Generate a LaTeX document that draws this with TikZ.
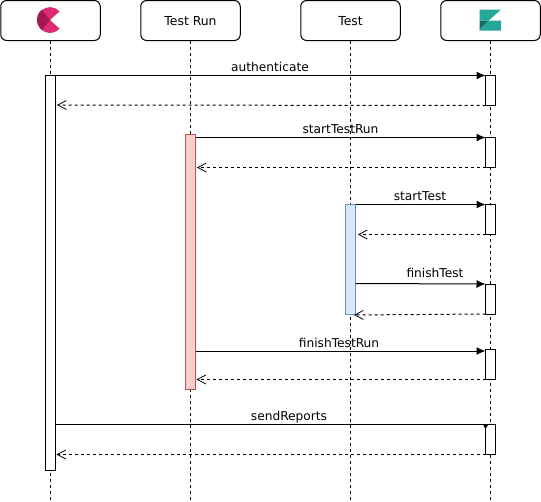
\documentclass[tikz,border=0pt]{standalone}
\usepackage{fontspec}
\setmainfont{DejaVu Sans}
\usetikzlibrary{arrows.meta}
\definecolor{blfill}{HTML}{DAE8FC}
\definecolor{blline}{HTML}{6C8EBF}
\definecolor{rdfill}{HTML}{F8CECC}
\definecolor{rdline}{HTML}{B85450}
\definecolor{kpink}{HTML}{DB2F72}
\definecolor{kdark}{HTML}{A6184F}
\definecolor{zteal}{HTML}{25A799}
\definecolor{zdark}{HTML}{0F6F66}
\tikzset{
 head/.style={draw=black,rounded corners=6pt,line width=1pt,minimum width=99.5pt,minimum height=40pt,inner sep=0pt,text depth=-1.5pt,font=\fontsize{12.4pt}{14pt}\selectfont},
 bar/.style={draw=black,fill=white,line width=1pt,minimum width=10pt,inner sep=0pt,outer sep=0pt},
 life/.style={line width=1pt,dash pattern=on 3pt off 3pt},
 msg/.style={line width=1pt,-{Latex[length=9pt,width=8pt]}},
 ret/.style={line width=1pt,dash pattern=on 3pt off 3pt,-{Straight Barb[length=8.5pt,width=9pt,line width=0.8pt]}},
 lab/.style={inner sep=0pt,font=\fontsize{12.2pt}{14pt}\selectfont,anchor=base}
}
\begin{document}
\begin{tikzpicture}[x=1pt,y=-1pt]
\useasboundingbox (0,0) rectangle (541,501);
\fill[white] (0,0) rectangle (541,501);
% lifeline ends
\coordinate (e1) at (50.5,500);
\coordinate (e2) at (190.5,500);
\coordinate (e3) at (350.5,500);
\coordinate (e4) at (490.5,500);
% heads
\node[head] (h1) at (50.5,20.5) {};
\node[head] (h2) at (190.5,20.5) {Test Run};
\node[head] (h3) at (350.5,20.5) {Test};
\node[head] (h4) at (490.5,20.5) {};
\draw[life] (h1) -- (e1);
\draw[life] (h2) -- (e2);
\draw[life] (h3) -- (e3);
\draw[life] (h4) -- (e4);
% activation bars
\node[bar,minimum height=394.5pt] (a1) at (50.5,272.75) {};
\node[bar,fill=rdfill,draw=rdline,minimum height=255pt] (a2) at (190.5,261.5) {};
\node[bar,fill=blfill,draw=blline,minimum height=110pt] (a3) at (350.5,259.5) {};
\node[bar,minimum height=30pt] (d1) at (490.5,90.5) {};
\node[bar,minimum height=30pt] (d2) at (490.5,152.5) {};
\node[bar,minimum height=30pt] (d3) at (490.5,219.5) {};
\node[bar,minimum height=30pt] (d4) at (490.5,299) {};
\node[bar,minimum height=30pt] (d5) at (490.5,364.5) {};
\node[bar,minimum height=30pt] (d6) at (490.5,439.5) {};
% logos
\fill[kpink] (50,20) -- (59.6,11.4) arc (-42:-318:12.9) -- cycle;
\fill[kdark] (50,20) -- (41.9,9.7) arc (-128:-232:12.9) -- cycle;
\fill[zteal] (479.5,9.5) -- (501,9.5) -- (488.5,20.7) -- (479.5,20.7) -- cycle;
\fill[zteal] (488.5,20.7) -- (501,20.7) -- (501,30.5) -- (479.5,30.5) -- (479.5,29.5) -- cycle;
\fill[zdark] (479.5,20.7) -- (488.5,20.7) -- (479.5,29.5) -- cycle;
% messages
\coordinate (m1s) at (55.5,75.5);
\coordinate (m2s) at (195.5,137.5);
\coordinate (m3s) at (355.5,204.5);
\coordinate (m4s) at (355.5,283.5);
\coordinate (m5s) at (195.5,351);
\coordinate (m6s) at (55.5,424.5);
\draw[msg] (m1s) -- (d1.north west);
\draw[msg] (m2s) -- (d2.north west);
\draw[msg] (m3s) -- (d3.north west);
\draw[msg] (m4s) -- (d4.north west);
\draw[msg] (m5s) -- (m5s -| d5.west);
\draw[line width=1pt] (m6s) -- (d6.north west);
\fill[black] (483.3,425) -- (488,425) -- (485.5,429) -- cycle;
% returns
\coordinate (r1) at (57,105);
\coordinate (r2) at (197,167.5);
\coordinate (r3) at (358,234.5);
\coordinate (r4) at (354,315);
\coordinate (r5) at (196.5,379.5);
\coordinate (r6) at (56.5,454.5);
\draw[ret] (d1.south west) -- (r1);
\draw[ret] (d2.south west) -- (r2);
\draw[ret] (d3.south west) -- (r3);
\draw[ret] (d4.south west) -- (r4);
\draw[ret] (d5.south west) -- (r5);
\draw[ret] (d6.south west) -- (r6);
% labels
\node[lab] (l1) at (270,71) {authenticate};
\node[lab] (l2) at (340.5,133.5) {startTestRun};
\node[lab] (l3) at (420,200.5) {startTest};
\node[lab] (l4) at (435,277) {finishTest};
\node[lab] (l5) at (339,347.5) {finishTestRun};
\node[lab] (l6) at (289,420) {sendReports};
\end{tikzpicture}
\end{document}
